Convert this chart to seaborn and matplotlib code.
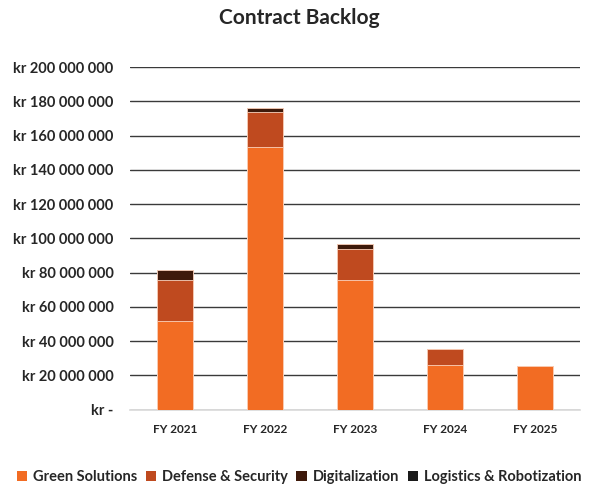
import matplotlib
matplotlib.use("Agg")
import matplotlib.pyplot as plt
import seaborn as sns
import numpy as np
import pandas as pd
from matplotlib.ticker import FuncFormatter
from matplotlib.patches import Patch

years = ["FY 2021", "FY 2022", "FY 2023", "FY 2024", "FY 2025"]
green_solutions = [52_000_000, 153_500_000, 76_000_000, 26_000_000, 25_500_000]
defense_security = [24_000_000, 20_000_000, 18_000_000, 9_700_000, 0]
digitalization = [5_700_000, 2_500_000, 2_500_000, 0, 0]
logistics_robotization = [0, 0, 0, 0, 0]

series_names = ["Green Solutions", "Defense & Security", "Digitalization", "Logistics & Robotization"]
series_values = [green_solutions, defense_security, digitalization, logistics_robotization]
colors = ["#F26C23", "#BF4A1F", "#3E1A0B", "#1A1A1A"]

sns.set_theme(style="white")
plt.rcParams["font.family"] = ["Lato", "DejaVu Sans"]
plt.rcParams["font.weight"] = "bold"

fig = plt.figure(figsize=(5.98, 5.04), dpi=100)
ax = fig.add_axes([0.218, 0.187, 0.752, 0.68])

cum = np.cumsum(np.array(series_values, dtype=float), axis=0)
# draw from top of stack down so lower segments overlay
for i in range(len(series_names) - 1, -1, -1):
    df = pd.DataFrame({"year": years, "value": cum[i]})
    sns.barplot(data=df, x="year", y="value", color=colors[i], width=0.4,
                saturation=1, ax=ax, edgecolor="#FBD3BE", linewidth=0.6, zorder=3)

ax.set_ylim(0, 200_000_000)
ax.set_yticks(np.arange(0, 200_000_001, 20_000_000))

def fmt(v, pos):
    if v == 0:
        return "kr -"
    s = f"{int(v):,}".replace(",", " ")
    return f"kr {s}"

ax.yaxis.set_major_formatter(FuncFormatter(fmt))
ax.yaxis.grid(True, color="#3a3a3a", linewidth=1.0, zorder=0)
ax.set_axisbelow(True)
for s in ["top", "right", "left"]:
    ax.spines[s].set_visible(False)
ax.spines["bottom"].set_color("#d9d9d9")
ax.spines["bottom"].set_linewidth(1.2)
ax.tick_params(axis="y", length=0, labelsize=10.5, pad=12)
ax.tick_params(axis="x", length=0, labelsize=8.5, pad=10)
for lbl in ax.get_yticklabels() + ax.get_xticklabels():
    lbl.set_fontweight("bold")
ax.set_xlabel("")
ax.set_ylabel("")

fig.suptitle("Contract Backlog", x=0.5, y=0.985, fontsize=15, fontweight="bold")

handles = [Patch(facecolor=c, edgecolor="none") for c in colors]
fig.legend(handles, series_names, loc="center", bbox_to_anchor=(0.5, 0.053), ncol=4,
           frameon=False, handlelength=0.7, handleheight=0.7,
           handletextpad=0.4, columnspacing=0.6, prop={"weight": "bold", "size": 10.5})

fig.savefig("out.png", dpi=100)
